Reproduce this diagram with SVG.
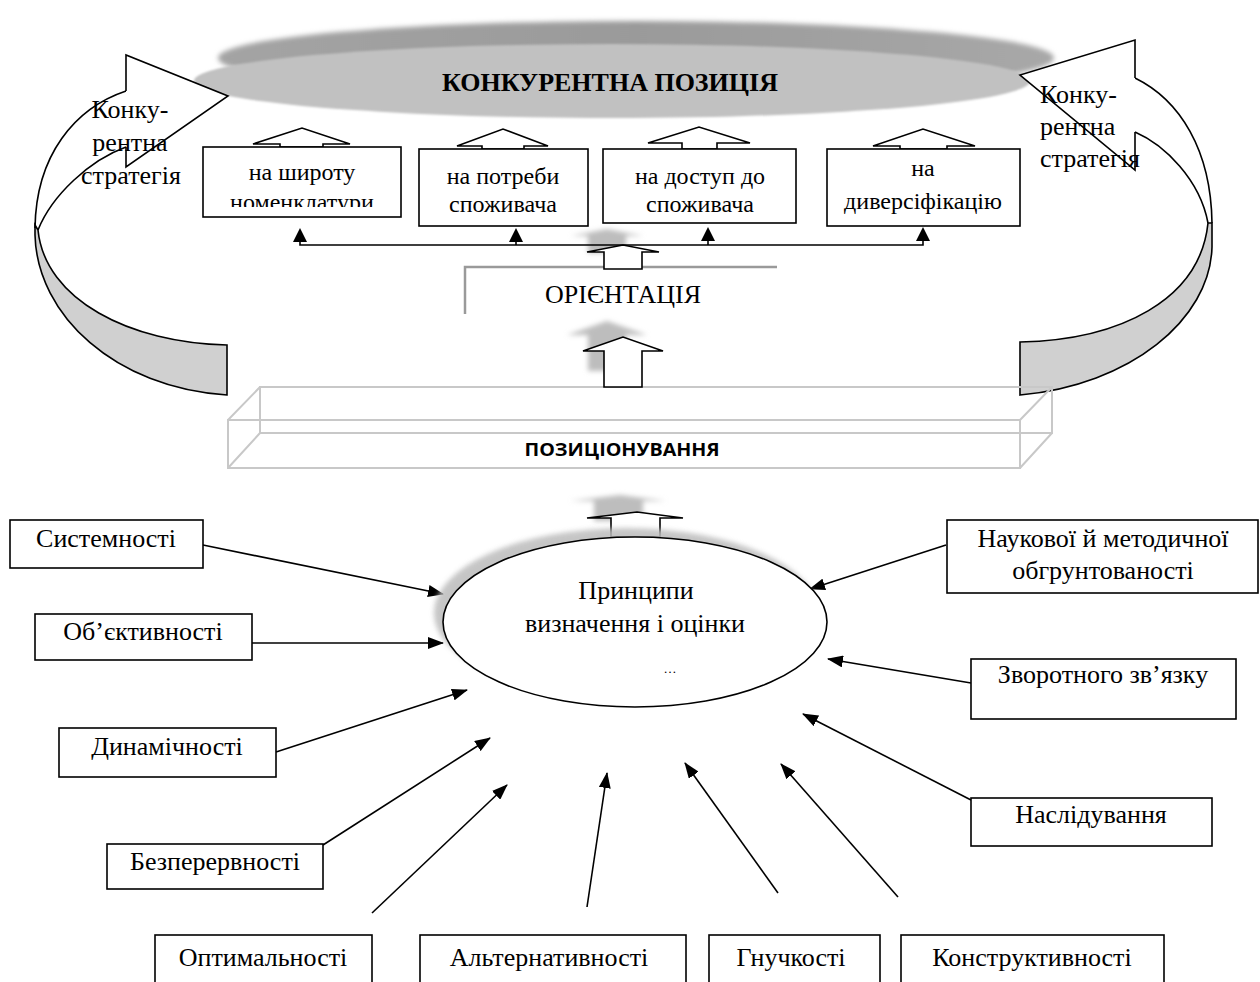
<svg xmlns="http://www.w3.org/2000/svg" width="1260" height="982" viewBox="0 0 1260 982">
<defs>
<filter id="blurD" x="-10%" y="-60%" width="120%" height="220%"><feGaussianBlur stdDeviation="2.5"/></filter>
<filter id="blurL" x="-10%" y="-30%" width="120%" height="160%"><feGaussianBlur stdDeviation="1"/></filter>
<filter id="shad" x="-30%" y="-30%" width="160%" height="160%"><feGaussianBlur stdDeviation="2.5"/></filter>
<filter id="soft" x="-5%" y="-20%" width="110%" height="140%"><feGaussianBlur stdDeviation="0.6"/></filter>
<marker id="ah" viewBox="0 0 16 12" refX="15" refY="6" markerWidth="16" markerHeight="12" markerUnits="userSpaceOnUse" orient="auto"><path d="M0,0 L16,6 L0,12 Z" fill="#000"/></marker>
<clipPath id="clip1"><rect x="204" y="148" width="196" height="59"/></clipPath>
<linearGradient id="dg" x1="0" y1="0" x2="1" y2="0"><stop offset="0" stop-color="#a4a4a4"/><stop offset="0.5" stop-color="#9a9a9a"/><stop offset="1" stop-color="#a8a8a8"/></linearGradient>
</defs>
<style>
.t{font-family:"Liberation Serif","Times New Roman",serif;fill:#000}
.s26{font-size:26px}
.s24{font-size:24px}
.box{fill:#fff;stroke:#000;stroke-width:1.6}
.blk{fill:#fff;stroke:#000;stroke-width:1.6;stroke-linejoin:miter}
.sh{fill:#bdbdbd;filter:url(#shad)}
.con{stroke:#000;stroke-width:1.6;fill:none}
.pos{fill:none;stroke:#c8c8c8;stroke-width:2}
.ln{fill:none;stroke:#000;stroke-width:1.6}
.band{fill:#d0d0d0;stroke:#000;stroke-width:1.6}
</style>

<!-- Title disc -->
<g id="title">
<ellipse cx="636" cy="58" rx="418" ry="37" fill="url(#dg)" filter="url(#blurD)"/>
<ellipse cx="612" cy="81" rx="418" ry="37" fill="#c1c1c1" filter="url(#blurL)"/>
<text class="t" x="610" y="91" font-size="26" font-weight="bold" text-anchor="middle">КОНКУРЕНТНА ПОЗИЦІЯ</text>
</g>

<!-- Left strategy arrow -->
<g id="strategy-left">
<path d="M126,91 C75,108 36,155 35,225 L38,230 C52,195 90,160 126,147 Z" fill="#fff"/>
<path class="ln" d="M126,91 C75,108 36,155 35,228"/>
<path class="ln" d="M126,147 C90,160 52,195 38,230"/>
<path class="band" d="M38,230 C45,300 130,343 227,345 L227,395 C115,388 37,315 35,235 L35,225 Z"/>
<path class="blk" d="M126,91 L126,55 L228,96 L126,167 L126,147"/>
<text class="t s26" text-anchor="middle"><tspan x="130" y="118">Конку-</tspan><tspan x="130" y="151">рентна</tspan><tspan x="131" y="184">стратегія</tspan></text>
</g>

<!-- Right strategy arrow -->
<g id="strategy-right">
<path d="M1135,78 C1180,100 1211,150 1212,223 L1208,223 C1200,180 1165,145 1135,132 Z" fill="#fff"/>
<path class="ln" d="M1135,78 C1180,100 1211,150 1212,223"/>
<path class="ln" d="M1135,132 C1165,145 1200,180 1208,223"/>
<path class="band" d="M1208,223 C1200,300 1120,340 1020,342 L1020,395 C1130,385 1210,320 1212,247 L1212,223 Z"/>
<path class="blk" d="M1135,78 L1135,40 L1020,75 L1135,170 L1135,132"/>
<text class="t s26"><tspan x="1040" y="103">Конку-</tspan><tspan x="1040" y="135">рентна</tspan><tspan x="1040" y="167">стратегія</tspan></text>
</g>

<!-- Orientation boxes -->
<g id="o1">
<polygon class="blk" points="280,147 280,144 253,144 302,128 350,144 323,144 323,147"/>
<rect class="box" x="203" y="147" width="198" height="70"/>
<g clip-path="url(#clip1)"><text class="t s24" text-anchor="middle"><tspan x="302" y="180">на широту</tspan><tspan x="302" y="210">номенклатури</tspan></text></g>
</g>
<g id="o2">
<polygon class="blk" points="482,149 482,146 457,146 503,129 548,146 524,146 524,149"/>
<rect class="box" x="419" y="149" width="169" height="77"/>
<text class="t s24" text-anchor="middle"><tspan x="503" y="184">на потреби</tspan><tspan x="503" y="212">споживача</tspan></text>
</g>
<g id="o3">
<polygon class="blk" points="682,149 682,143 648,143 699,127 750,143 717,143 717,149"/>
<rect class="box" x="603" y="149" width="193" height="74"/>
<text class="t s24" text-anchor="middle"><tspan x="700" y="184">на доступ до</tspan><tspan x="700" y="212">споживача</tspan></text>
</g>
<g id="o4">
<polygon class="blk" points="900,149 900,146 873,146 923,129 975,146 947,146 947,149"/>
<rect class="box" x="827" y="149" width="193" height="77"/>
<text class="t s24" text-anchor="middle"><tspan x="923" y="176">на</tspan><tspan x="923" y="209">диверсіфікацію</tspan></text>
</g>

<!-- Orientation -->
<g id="orientation">
<path d="M465,314 L465,267 L777,267" fill="none" stroke="#9a9a9a" stroke-width="2.5"/>
<text class="t s26" x="623" y="303" text-anchor="middle">ОРІЄНТАЦІЯ</text>
</g>

<!-- Positioning box -->
<g id="positioning">
<g class="pos" filter="url(#soft)">
<rect x="260" y="387" width="792" height="46"/>
<rect x="228" y="420" width="792" height="48"/>
<path d="M228,420 L260,387 M228,468 L260,433 M1020,420 L1052,387 M1020,468 L1052,433"/>
</g>
<text x="622" y="456" font-family="'Open Sans','Liberation Sans',sans-serif" font-size="18" font-weight="bold" text-anchor="middle" textLength="195" lengthAdjust="spacingAndGlyphs">ПОЗИЦІОНУВАННЯ</text>
</g>

<!-- Block arrows -->
<g id="block-arrows">
<polygon class="sh" points="588,253 588,236 571,236 607,229 643,236 626,236 626,253"/>
<polygon class="blk" points="604,269 604,252 587,252 623,245 659,252 642,252 642,269"/>
<polygon class="sh" points="588,371 588,335 567,335 607,321 647,335 626,335 626,371"/>
<polygon class="blk" points="604,387 604,351 583,351 623,337 663,351 642,351 642,387"/>
<polygon class="sh" points="594,521 594,501 570,501 620,495 666,501 643,501 643,521"/>
<polygon class="blk" points="611,537 611,518 587,518 637,512 683,518 660,518 660,537"/>
</g>

<!-- Connectors -->
<g id="connectors">
<path class="con" d="M300,241 L300,245 L923,245 L923,241 M516,245 L516,241 M708,245 L708,241"/>
<polygon points="300,228 293,242 307,242" fill="#000"/>
<polygon points="516,228 509,242 523,242" fill="#000"/>
<polygon points="708,227 701,241 715,241" fill="#000"/>
<polygon points="923,227 916,241 930,241" fill="#000"/>
<g class="con" marker-end="url(#ah)">
<line x1="203" y1="545" x2="443" y2="594"/>
<line x1="252" y1="643" x2="443" y2="643"/>
<line x1="276" y1="752" x2="467" y2="690"/>
<line x1="323" y1="845" x2="490" y2="738"/>
<line x1="372" y1="913" x2="507" y2="785"/>
<line x1="587" y1="907" x2="607" y2="773"/>
<line x1="778" y1="893" x2="685" y2="763"/>
<line x1="898" y1="897" x2="781" y2="764"/>
<line x1="971" y1="800" x2="803" y2="714"/>
<line x1="971" y1="683" x2="828" y2="659"/>
<line x1="946" y1="545" x2="810" y2="589"/>
</g>
</g>

<!-- Central ellipse -->
<g id="principles">
<ellipse cx="626" cy="613" rx="192" ry="85" fill="#bcbcbc" opacity="0.85" filter="url(#shad)"/>
<ellipse cx="635" cy="622" rx="192" ry="85" fill="#fff" stroke="#000" stroke-width="1.6"/>
<text class="t s26" text-anchor="middle"><tspan x="636" y="599">Принципи</tspan><tspan x="635" y="632">визначення і оцінки</tspan></text>
<text class="t" x="670" y="673" font-size="13" text-anchor="middle">…</text>
</g>

<!-- Principle boxes -->
<g id="p-systemnosti"><rect class="box" x="10" y="520" width="193" height="48"/><text class="t s26" x="106" y="547" text-anchor="middle">Системності</text></g>
<g id="p-obiektyvnosti"><rect class="box" x="35" y="614" width="217" height="46"/><text class="t s26" x="143" y="640" text-anchor="middle">Об’єктивності</text></g>
<g id="p-dynamichnosti"><rect class="box" x="59" y="728" width="217" height="49"/><text class="t s26" x="167" y="755" text-anchor="middle">Динамічності</text></g>
<g id="p-bezperervnosti"><rect class="box" x="107" y="844" width="216" height="45"/><text class="t s26" x="215" y="870" text-anchor="middle">Безперервності</text></g>
<g id="p-optymalnosti"><rect class="box" x="155" y="935" width="217" height="70"/><text class="t s26" x="263" y="966" text-anchor="middle">Оптимальності</text></g>
<g id="p-alternatyvnosti"><rect class="box" x="420" y="935" width="266" height="70"/><text class="t s26" x="549" y="966" text-anchor="middle">Альтернативності</text></g>
<g id="p-hnuchkosti"><rect class="box" x="709" y="935" width="171" height="70"/><text class="t s26" x="791" y="966" text-anchor="middle">Гнучкості</text></g>
<g id="p-konstruktyvnosti"><rect class="box" x="901" y="935" width="263" height="70"/><text class="t s26" x="1032" y="966" text-anchor="middle">Конструктивності</text></g>
<g id="p-naslíduvannia"><rect class="box" x="971" y="798" width="241" height="48"/><text class="t s26" x="1091" y="823" text-anchor="middle">Наслідування</text></g>
<g id="p-zvorotnoho"><rect class="box" x="971" y="659" width="265" height="60"/><text class="t s26" x="1103" y="683" text-anchor="middle">Зворотного зв’язку</text></g>
<g id="p-naukovoi"><rect class="box" x="947" y="520" width="311" height="73"/><text class="t s26" text-anchor="middle"><tspan x="1103" y="547">Наукової й методичної</tspan><tspan x="1103" y="579">обгрунтованості</tspan></text></g>
</svg>
